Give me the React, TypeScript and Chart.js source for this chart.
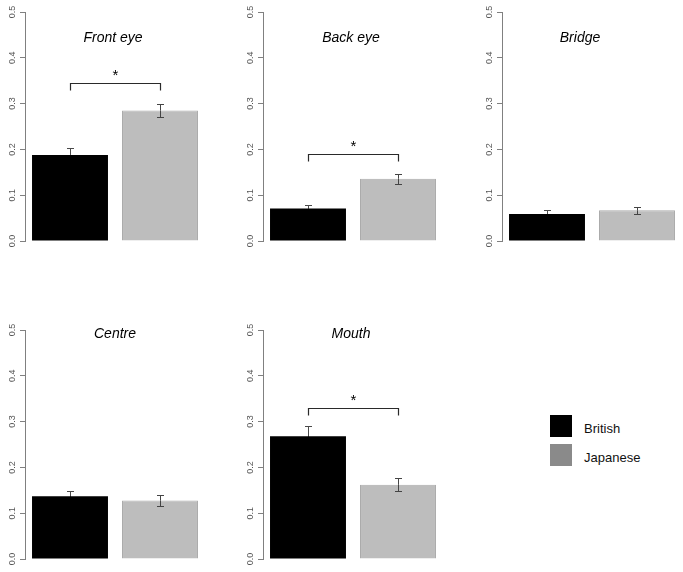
import React, { useEffect, useRef } from "react";
import { Chart, registerables } from "chart.js";

Chart.register(...registerables);

// ---------- data ----------
const groups = ["British", "Japanese"];
const panelTitles = ["Front eye", "Back eye", "Bridge", "Centre", "Mouth"];
const britishMeans = [0.188, 0.071, 0.059, 0.137, 0.268];
const britishErrors = [0.016, 0.0085, 0.008, 0.012, 0.023];
const japaneseMeans = [0.285, 0.136, 0.067, 0.128, 0.162];
const japaneseErrors = [0.014, 0.011, 0.007, 0.012, 0.0145];
const significanceLevels: (number | null)[] = [0.346, 0.191, null, null, 0.33];
const significanceMark = "*";
const yTicks = [0, 0.1, 0.2, 0.3, 0.4, 0.5];

// ---------- layout / style ----------
const FONT = '"Liberation Sans", Arial, Helvetica, sans-serif';
const PANEL_W = 205;
const PANEL_H = 250;
const panelBoxes = [
  { left: 0, top: 0, titleDx: 88, titleDy: 26 },
  { left: 238, top: 0, titleDx: 88, titleDy: 26 },
  { left: 477, top: 0, titleDx: 78, titleDy: 26 },
  { left: 0, top: 318, titleDx: 90, titleDy: 4 },
  { left: 238, top: 318, titleDx: 88, titleDy: 4 },
];
const BRITISH_COLOR = "#000000";
const JAPANESE_COLOR = "#bdbdbd";
const JAPANESE_BORDER = "#aaaaaa";
const LEGEND_JAPANESE = "#8a8a8a";
const ERR_OUTSIDE = ["#4a4a4a", "#444444"];
const ERR_INSIDE = ["#000000", "#444444"];

function crisp(v: number) {
  return Math.round(v) + 0.5;
}

const decorPlugin = {
  id: "panelDecor",
  afterDatasetsDraw(chart: any, _args: any, opts: any) {
    const ctx = chart.ctx as CanvasRenderingContext2D;
    const ys = chart.scales.y;
    const area = chart.chartArea;
    ctx.save();
    ctx.lineWidth = 1;
    // error bars
    chart.data.datasets.forEach((ds: any, di: number) => {
      const meta = chart.getDatasetMeta(di);
      ds.data.forEach((v: number | null, i: number) => {
        if (v == null) return;
        const err = opts.errors[di][i];
        const el = meta.data[i];
        const x = crisp(el.x);
        const t = crisp(ys.getPixelForValue(v + err));
        const m = ys.getPixelForValue(v);
        const b = crisp(ys.getPixelForValue(v - err));
        ctx.strokeStyle = ERR_OUTSIDE[di];
        ctx.beginPath();
        ctx.moveTo(x, t);
        ctx.lineTo(x, m);
        ctx.moveTo(x - 3.5, t);
        ctx.lineTo(x + 3.5, t);
        ctx.stroke();
        ctx.strokeStyle = ERR_INSIDE[di];
        ctx.beginPath();
        ctx.moveTo(x, m);
        ctx.lineTo(x, b);
        ctx.moveTo(x - 3.5, b);
        ctx.lineTo(x + 3.5, b);
        ctx.stroke();
      });
    });
    // significance bracket
    if (opts.bracket != null) {
      const x0 = crisp(chart.getDatasetMeta(0).data[0].x);
      const x1 = crisp(chart.getDatasetMeta(1).data[1].x);
      const yb = crisp(ys.getPixelForValue(opts.bracket));
      ctx.strokeStyle = "#2a2a2a";
      ctx.lineWidth = 1.2;
      ctx.beginPath();
      ctx.moveTo(x0, yb + 7);
      ctx.lineTo(x0, yb);
      ctx.lineTo(x1, yb);
      ctx.lineTo(x1, yb + 7);
      ctx.stroke();
      ctx.fillStyle = "#000000";
      ctx.font = `15px ${FONT}`;
      ctx.textAlign = "center";
      ctx.textBaseline = "alphabetic";
      ctx.fillText(significanceMark, (x0 + x1) / 2, yb - 4);
    }
    // panel title
    ctx.fillStyle = "#000000";
    ctx.font = `italic 14px ${FONT}`;
    ctx.textAlign = "center";
    ctx.textBaseline = "middle";
    ctx.fillText(opts.title, area.left + opts.titleDx, area.top + opts.titleDy);
    ctx.restore();
  },
};

function Panel({ idx }: { idx: number }) {
  const ref = useRef<HTMLCanvasElement>(null);
  const box = panelBoxes[idx];
  useEffect(() => {
    const chart = new Chart(ref.current as HTMLCanvasElement, {
      type: "bar",
      data: {
        labels: groups,
        datasets: [
          {
            label: groups[0],
            data: [britishMeans[idx], null],
            backgroundColor: BRITISH_COLOR,
            borderColor: BRITISH_COLOR,
            borderWidth: 0,
            grouped: false,
            barPercentage: 0.844,
            categoryPercentage: 1,
          },
          {
            label: groups[1],
            data: [null, japaneseMeans[idx]],
            backgroundColor: JAPANESE_COLOR,
            borderColor: JAPANESE_BORDER,
            borderWidth: 1,
            grouped: false,
            barPercentage: 0.844,
            categoryPercentage: 1,
          },
        ] as any,
      },
      plugins: [decorPlugin as any],
      options: {
        animation: false,
        responsive: false,
        maintainAspectRatio: false,
        devicePixelRatio: 1,
        layout: { padding: { top: 12, bottom: 9, left: 0, right: 0 } },
        plugins: {
          legend: { display: false },
          tooltip: { enabled: false },
          title: { display: false },
          panelDecor: {
            title: panelTitles[idx],
            bracket: significanceLevels[idx],
            errors: [
              [britishErrors[idx], null],
              [null, japaneseErrors[idx]],
            ],
            titleDx: box.titleDx,
            titleDy: box.titleDy,
          },
        } as any,
        scales: {
          x: { type: "category", display: false, offset: true },
          y: {
            type: "linear",
            min: 0,
            max: 0.5,
            afterBuildTicks: (s: any) => {
              s.ticks = yTicks.map((v) => ({ value: v }));
            },
            afterFit: (s: any) => {
              s.width = 25;
            },
            border: { display: true, color: "#808080", width: 1 },
            grid: {
              drawOnChartArea: false,
              drawTicks: true,
              tickLength: 5,
              color: "#808080",
            },
            ticks: {
              minRotation: 90,
              maxRotation: 90,
              crossAlign: "center",
              padding: 1,
              color: "#555555",
              font: { family: FONT, size: 9 },
              callback: (v: any) => Number(v).toFixed(1),
            },
          } as any,
        },
      },
    });
    return () => chart.destroy();
  }, [idx]);
  return (
    <canvas
      ref={ref}
      width={PANEL_W}
      height={PANEL_H}
      style={{
        position: "absolute",
        left: box.left,
        top: box.top,
        width: PANEL_W,
        height: PANEL_H,
        display: "block",
      }}
    />
  );
}

export default function App() {
  const legendText: React.CSSProperties = {
    position: "absolute",
    left: 584,
    fontFamily: FONT,
    fontSize: 13,
    lineHeight: "13px",
    color: "#111",
    whiteSpace: "nowrap",
  };
  return (
    <div
      style={{
        position: "fixed",
        left: 0,
        top: 0,
        width: 683,
        height: 572,
        background: "#ffffff",
        overflow: "hidden",
      }}
    >
      {panelTitles.map((_, i) => (
        <Panel key={i} idx={i} />
      ))}
      <div style={{ position: "absolute", left: 550, top: 415, width: 22, height: 22, background: BRITISH_COLOR }} />
      <div style={{ position: "absolute", left: 550, top: 444, width: 22, height: 22, background: LEGEND_JAPANESE }} />
      <div style={{ ...legendText, top: 422 }}>{groups[0]}</div>
      <div style={{ ...legendText, top: 451 }}>{groups[1]}</div>
    </div>
  );
}
